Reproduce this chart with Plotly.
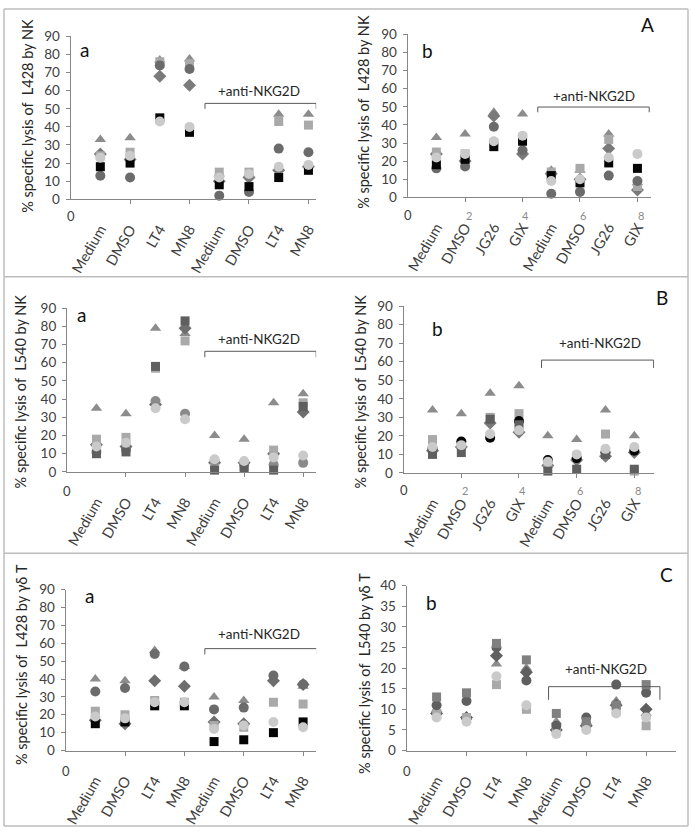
import plotly.graph_objects as go

W, H = 691, 836

# ---------------- data ----------------
X_POS = [1, 2, 3, 4, 5, 6, 7, 8]
CATS_LT = ["Medium", "DMSO", "LT4", "MN8", "Medium", "DMSO", "LT4", "MN8"]
CATS_JG = ["Medium", "DMSO", "JG26", "GIX", "Medium", "DMSO", "JG26", "GIX"]

Y_TICKS_90 = [0, 10, 20, 30, 40, 50, 60, 70, 80, 90]
Y_TICKS_40 = [0, 5, 10, 15, 20, 25, 30, 35, 40]

# Panel A-a : L428 by NK (LT4 / MN8)
AA_TRI = [33, 34, 77, 77.5, 14, 14, 47, 47]
AA_DIA = [25, 22, 68, 63, 10, 12, 16, 18]
AA_LSQ = [24, 26, 76, 75, 15, 15, 43, 41]
AA_DCI = [13, 12, 74, 72, 2, 4, 28, 26]
AA_DSQ = [18, 20, 45, 37, 8, 7, 12, 16]
AA_LCI = [23, 24, 43, 40, 12, 14, 18, 19]

# Panel A-b : L428 by NK (JG26 / GIX)
AB_TRI = [33, 35, 47, 46, 15, 15, 35, 8]
AB_DIA = [24, 20, 45, 24, 13, 10, 27, 4]
AB_LSQ = [25, 24, 30, 33, 14, 16, 32, 6]
AB_DCI = [16, 17, 39, 26, 2, 3, 12, 9]
AB_DSQ = [18, 21, 28, 31, 12, 8, 19, 16]
AB_LCI = [22, 24, 31, 34, 9, 10, 22, 24]

# Panel B-a : L540 by NK (LT4 / MN8)
BA_TRI = [35, 32, 79, 76, 20, 18, 38, 43]
BA_DIA = [15, 14, 37, 79, 5, 5, 10, 33]
BA_LSQ = [18, 19, 57, 72, 4, 3, 12, 38]
BA_DCI = [11, 12, 39, 32, 6, 4, 4, 5]
BA_DSQ = [10, 11, 58, 83, 1, 2, 1, 36]
BA_LCI = [14, 16, 35, 29, 7, 6, 8, 9]

# Panel B-b : L540 by NK (JG26 / GIX)
BB_TRI = [34, 32, 43, 47, 20, 18, 34, 20]
BB_DIA = [12, 14, 27, 22, 4, 7, 9, 11]
BB_LSQ = [18, 15, 30, 32, 5, 9, 21, 1]
BB_DCI = [13, 17, 19, 28, 7, 8, 11, 12]
BB_DSQ = [10, 11, 29, 26, 1, 2, 10, 2]
BB_LCI = [14, 15, 21, 23, 6, 10, 13, 14]

# Panel C-a : L428 by gamma-delta T
CA_TRI = [40, 39, 56, 47, 30, 28, 40, 36]
CA_DIA = [17, 15, 39, 36, 16, 15, 39, 37]
CA_LSQ = [22, 20, 28, 27, 14, 13, 27, 26]
CA_DCI = [33, 35, 54, 47, 23, 24, 42, 37]
CA_DSQ = [15, 16, 25, 25, 5, 6, 10, 16]
CA_LCI = [19, 18, 27, 27, 12, 14, 16, 13]

# Panel C-b : L540 by gamma-delta T
CB_TRI = [10, 8, 21, 20, 7, 7, 12, 9]
CB_DIA = [9, 8, 23, 19, 5, 6, 11, 10]
CB_LSQ = [9, 8, 16, 10, 5, 6, 10, 6]
CB_DCI = [11, 12, 25, 17, 6, 8, 16, 14]
CB_DSQ = [13, 14, 26, 22, 9, 7, 11, 16]
CB_LCI = [8, 7, 18, 11, 4, 5, 9, 8]

# ---------------- styles ----------------
FONT = "Lato"
TXT = "#404040"
AX = "#868686"

SYMBOLS = ["triangle-up", "diamond", "square", "circle", "square", "circle"]
SIZES = [10, 10, 9, 10, 9, 10]

panels = [
    dict(series=[AA_TRI, AA_DIA, AA_LSQ, AA_DCI, AA_DSQ, AA_LCI],
         colors=["#8c8c8c", "#7a7a7a", "#a9a9a9", "#6b6b6b", "#050505", "#cacaca"],
         cats=CATS_LT, box=(68, 315, 29, 195), xmax=8.26, ymax=90, yt=Y_TICKS_90,
         title="% specific lysis of  L428 by NK", tx=25, ty=110,
         letter="a", lx=82, ly=42, zero=(68, 212), digits=False,
         br=(4.52, 8.26, 53, 50), brt=(6.35, 60)),
    dict(series=[AB_TRI, AB_DIA, AB_LSQ, AB_DCI, AB_DSQ, AB_LCI],
         colors=["#8c8c8c", "#7a7a7a", "#a9a9a9", "#6b6b6b", "#050505", "#cacaca"],
         cats=CATS_JG, box=(407, 652, 27, 193), xmax=8.48, ymax=90, yt=Y_TICKS_90,
         title="% specific lysis of  L428 by NK", tx=363, ty=106,
         letter="b", lx=427, ly=43, zero=(408, 211), digits=True,
         br=(4.53, 8.41, 49.9, 47), brt=(6.5, 56)),
    dict(series=[BA_TRI, BA_DIA, BA_LSQ, BA_DCI, BA_DSQ, BA_LCI],
         colors=["#8c8c8c", "#6e6e6e", "#a9a9a9", "#8a8a8a", "#5f5f5f", "#cacaca"],
         cats=CATS_LT, box=(64.3, 315, 306, 473), xmax=8.44, ymax=90, yt=Y_TICKS_90,
         title="% specific lysis of  L540 by NK", tx=18, ty=391,
         letter="a", lx=79, ly=312, zero=(63, 492), digits=False,
         br=(4.67, 8.44, 66.3, 63), brt=(6.52, 73)),
    dict(series=[BB_TRI, BB_DIA, BB_LSQ, BB_DCI, BB_DSQ, BB_LCI],
         colors=["#8c8c8c", "#7a7a7a", "#a9a9a9", "#050505", "#5f5f5f", "#cacaca"],
         cats=CATS_JG, box=(403, 655, 304, 474), xmax=8.69, ymax=90, yt=Y_TICKS_90,
         title="% specific lysis of  L540 by NK", tx=360, ty=391,
         letter="b", lx=437, ly=327, zero=(400, 491), digits=True,
         br=(4.78, 8.67, 60.9, 56.6), brt=(6.8, 70)),
    dict(series=[CA_TRI, CA_DIA, CA_LSQ, CA_DCI, CA_DSQ, CA_LCI],
         colors=["#8c8c8c", "#6e6e6e", "#a9a9a9", "#6b6b6b", "#050505", "#cacaca"],
         cats=CATS_LT, box=(63, 315, 593, 757), xmax=8.44, ymax=90, yt=Y_TICKS_90,
         title="% specific lysis of  L428 by \u03b3\u03b4 T", tx=18, ty=669,
         letter="a", lx=87, ly=599, zero=(63, 778), digits=False,
         br=(4.69, 8.47, 57, 53.8), brt=(6.53, 65.3)),
    dict(series=[CB_TRI, CB_DIA, CB_LSQ, CB_DCI, CB_DSQ, CB_LCI],
         colors=["#8c8c8c", "#5f5f5f", "#a9a9a9", "#5f5f5f", "#808080", "#cacaca"],
         cats=CATS_LT, box=(406, 677, 589, 757), xmax=9.0, ymax=40, yt=Y_TICKS_40,
         title="% specific lysis of  L540 by \u03b3\u03b4 T", tx=363, ty=678,
         letter="b", lx=431, ly=606, zero=(403, 778), digits=False,
         br=(4.74, 8.46, 15.5, 12.3), brt=(6.67, 19.8)),
]

def px(x):
    return x / W

def py(y):
    return 1 - y / H

fig = go.Figure()
annotations = []
shapes = []

for i, p in enumerate(panels, start=1):
    xa = "x" if i == 1 else f"x{i}"
    ya = "y" if i == 1 else f"y{i}"
    for s, vals in enumerate(p["series"]):
        fig.add_trace(go.Scatter(
            x=X_POS, y=vals, mode="markers", xaxis=xa, yaxis=ya,
            showlegend=False, cliponaxis=False,
            marker=dict(symbol=SYMBOLS[s], size=SIZES[s], color=p["colors"][s],
                        line=dict(width=0)),
        ))
    l, r, t, b = p["box"]
    fig.layout[f"xaxis{'' if i == 1 else i}"] = dict(
        domain=[px(l), px(r)], range=[0, p["xmax"]], anchor=ya,
        tickmode="array", tickvals=X_POS, ticktext=p["cats"], tickangle=-60,
        ticks="", ticklen=0, ticklabelstandoff=15,
        tickfont=dict(family=FONT, size=14.5, color=TXT),
        showline=True, linecolor=AX, linewidth=1, showgrid=False, zeroline=False,
        minor=dict(tickmode="array", tickvals=[2, 4, 6, 8], ticks="outside",
                   ticklen=4, tickcolor=AX, showgrid=False),
        fixedrange=True,
    )
    fig.layout[f"yaxis{'' if i == 1 else i}"] = dict(
        domain=[py(b), py(t)], range=[0, p["ymax"]], anchor=xa,
        tickmode="array", tickvals=p["yt"], ticks="outside", ticklen=4,
        tickcolor=AX, tickfont=dict(family=FONT, size=13.5, color=TXT),
        ticklabelstandoff=3,
        showline=True, linecolor=AX, linewidth=1, showgrid=False, zeroline=False,
        fixedrange=True,
    )
    # y-axis title
    annotations.append(dict(text=p["title"], x=px(p["tx"]), y=py(p["ty"]),
                            xref="paper", yref="paper", textangle=-90,
                            showarrow=False, xanchor="center", yanchor="middle",
                            font=dict(family=FONT, size=14.5, color="#262626")))
    # panel letter
    annotations.append(dict(text=p["letter"], x=px(p["lx"]), y=py(p["ly"]),
                            xref="paper", yref="paper", showarrow=False,
                            xanchor="center", yanchor="middle",
                            font=dict(family=FONT, size=19, color="#111111")))
    # numeric "0" of the x axis
    annotations.append(dict(text="0", x=0, y=py(p["zero"][1]), xref=xa,
                            yref="paper", showarrow=False, xanchor="center",
                            yanchor="middle",
                            font=dict(family=FONT, size=13, color=TXT)))
    if p["digits"]:
        for d in [2, 4, 6, 8]:
            annotations.append(dict(text=str(d), x=d + 0.12, y=py(p["zero"][1] + 1),
                                    xref=xa, yref="paper", showarrow=False,
                                    xanchor="center", yanchor="middle",
                                    font=dict(family=FONT, size=11, color="#8a8a8a")))
    # +anti-NKG2D bracket
    x0, x1, yb, ye = p["br"]
    shapes.append(dict(type="path", xref=xa, yref=ya,
                       path=f"M {x0} {ye} L {x0} {yb} L {x1} {yb} L {x1} {ye}",
                       line=dict(color="#595959", width=1)))
    annotations.append(dict(text="+anti-NKG2D", x=p["brt"][0], y=p["brt"][1],
                            xref=xa, yref=ya, showarrow=False, xanchor="center",
                            yanchor="middle",
                            font=dict(family=FONT, size=13.5, color="#262626")))

# big section letters
for txt, x, y in [("A", 648, 17), ("B", 663, 295), ("C", 667, 578)]:
    annotations.append(dict(text=txt, x=px(x), y=py(y), xref="paper", yref="paper",
                            showarrow=False, xanchor="center", yanchor="middle",
                            font=dict(family=FONT, size=19, color="#111111")))

# frame lines
FR = "#bdbdbd"
for (x0, y0, x1, y1) in [(1, 1, 689, 1), (1, 1, 1, 834), (689, 1, 689, 834),
                         (1, 274, 689, 274), (1, 556, 689, 556), (1, 834, 689, 834)]:
    shapes.append(dict(type="line", xref="paper", yref="paper",
                       x0=px(x0), y0=py(y0), x1=px(x1), y1=py(y1),
                       line=dict(color=FR, width=1.5)))

fig.update_layout(
    width=W, height=H, margin=dict(l=0, r=0, t=0, b=0),
    paper_bgcolor="white", plot_bgcolor="white",
    annotations=annotations, shapes=shapes, showlegend=False,
)

fig.write_html("out.html", config={"displayModeBar": False},
               post_script="document.body.style.margin='0';"
                           "document.body.style.overflow='hidden';")
